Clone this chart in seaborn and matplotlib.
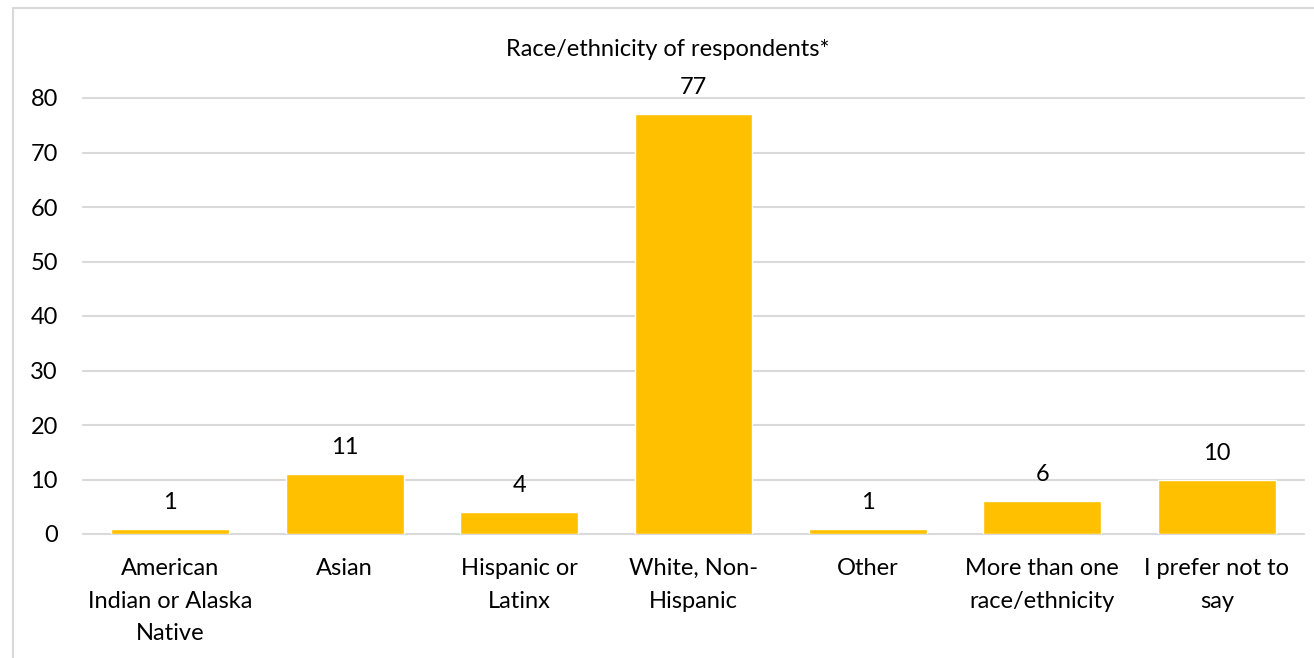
import matplotlib.pyplot as plt
import seaborn as sns
import pandas as pd
from matplotlib.patches import Rectangle

categories = [
    "American\nIndian or Alaska\nNative",
    "Asian",
    "Hispanic or\nLatinx",
    "White, Non-\nHispanic",
    "Other",
    "More than one\nrace/ethnicity",
    "I prefer not to\nsay",
]
counts = [1, 11, 4, 77, 1, 6, 10]
yticks = [0, 10, 20, 30, 40, 50, 60, 70, 80]

sns.set_style("white")
plt.rcParams["font.family"] = ["Lato", "DejaVu Sans"]

df = pd.DataFrame({"cat": categories, "n": counts})

fig = plt.figure(figsize=(13.14, 6.58), dpi=100)
ax = fig.add_axes([83 / 1314, 1 - 534 / 658, (1304 - 83) / 1314, (534 - 98) / 658])

sns.barplot(data=df, x="cat", y="n", color="#FFC000", saturation=1, width=0.675, ax=ax)

for i, v in enumerate(counts):
    ax.annotate(str(v), (i, v), xytext=(0, 19), textcoords="offset points",
                ha="center", va="center", fontsize=17, color="#000000")

ax.set_ylim(0, 80)
ax.set_yticks(yticks)
ax.set_xlim(-0.5, len(categories) - 0.5)
ax.grid(axis="y", color="#D9D9D9", linewidth=1.5)
for line in ax.get_ygridlines():
    line.set_clip_on(False)
ax.set_axisbelow(True)
for s in ax.spines.values():
    s.set_visible(False)
ax.tick_params(axis="both", length=0, labelsize=17, colors="#000000")
ax.tick_params(axis="x", pad=17)
ax.tick_params(axis="y", pad=18)
for lbl in ax.get_xticklabels():
    lbl.set_linespacing(1.7)
ax.set_xlabel("")
ax.set_ylabel("")

fig.text(668 / 1314, 1 - 50 / 658, "Race/ethnicity of respondents*", ha="center", va="center",
         fontsize=17, color="#000000")

fig.patches.append(Rectangle((13 / 1314, -0.1), 1.2, 1 - 8 / 658 + 0.1, transform=fig.transFigure,
                             fill=False, edgecolor="#D9D9D9", linewidth=1.5))

fig.savefig("out.png", dpi=100)
